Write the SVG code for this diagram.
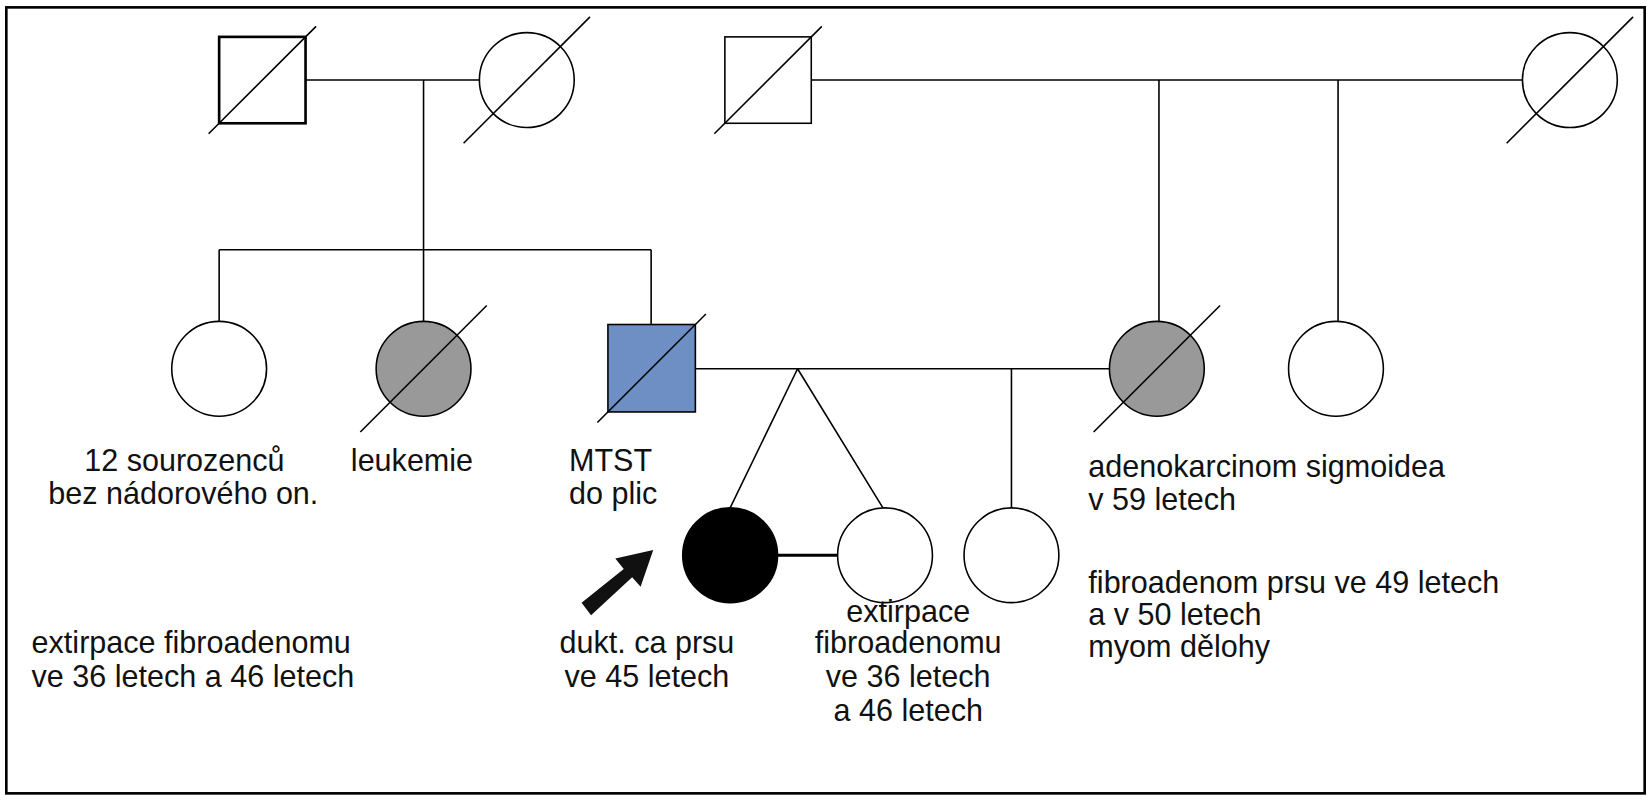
<svg xmlns="http://www.w3.org/2000/svg" width="1652" height="800" viewBox="0 0 1652 800">
<style>
.s{fill:#fff;stroke:#000;stroke-width:1.5}
.b{stroke-width:2.5}
.l{stroke:#000;stroke-width:1.5;fill:none}
text{font-family:"Liberation Sans",Arial,sans-serif;font-size:29px;fill:#111}
.m{text-anchor:middle}
</style>
<rect x="0" y="0" width="1652" height="800" fill="#fff"/>
<g transform="scale(1.0536)">
<rect x="6" y="7" width="1555" height="746" fill="none" stroke="#000" stroke-width="2.5"/>
<g id="connectors">
<path class="l" d="M290 76H455M402 76V237M208 237H618M208 237V305M402 237V305M618 237V308M770 76H1445M1100 76V305M1270 76V305M660 350H1053M757 350L693 482M757 350L838 482M960 350V482"/>
<path class="l" d="M738 527H795" style="stroke-width:3"/>
<path d="M552 572L592 540L584 530L620 522L608 557L600 548L561 584Z" fill="#111"/>
</g>
<g id="g1a"><rect class="s b" x="208" y="35" width="82" height="82"/><path class="l" d="M198 127L300 25"/></g>
<g id="g1b"><circle class="s" cx="500" cy="76" r="45"/><path class="l" d="M440 136L560 16"/></g>
<g id="g1c"><rect class="s" x="688" y="35" width="82" height="82"/><path class="l" d="M678 127L780 25"/></g>
<g id="g1d"><circle class="s" cx="1490" cy="76" r="45"/><path class="l" d="M1430 136L1550 16"/></g>
<g id="g2a"><circle class="s" cx="208" cy="350" r="45"/></g>
<g id="g2b"><circle class="s" cx="402" cy="350" r="45" style="fill:#999"/><path class="l" d="M342 410L462 290"/></g>
<g id="g2c"><rect class="s" x="577" y="308" width="83" height="83" style="fill:#6d8fc4"/><path class="l" d="M567 401L670 298"/></g>
<g id="g2d"><circle class="s" cx="1098" cy="350" r="45" style="fill:#999"/><path class="l" d="M1038 410L1158 290"/></g>
<g id="g2e"><circle class="s" cx="1268" cy="350" r="45"/></g>
<g id="g3a"><circle class="s" cx="693" cy="527" r="45" style="fill:#000"/></g>
<g id="g3b"><circle class="s" cx="840" cy="527" r="45"/></g>
<g id="g3c"><circle class="s" cx="960" cy="527" r="45"/></g>
<text class="m" x="175" y="447">12 sourozenců</text>
<text class="m" x="174" y="478">bez nádorového on.</text>
<text x="333" y="447">leukemie</text>
<text x="540" y="447">MTST</text>
<text x="540" y="478">do plic</text>
<text x="1033" y="453">adenokarcinom sigmoidea</text>
<text x="1033" y="484">v 59 letech</text>
<text x="1033" y="563">fibroadenom prsu ve 49 letech</text>
<text x="1033" y="593">a v 50 letech</text>
<text x="1033" y="624">myom dělohy</text>
<text x="30" y="620">extirpace fibroadenomu</text>
<text x="30" y="652">ve 36 letech a 46 letech</text>
<text class="m" x="614" y="620">dukt. ca prsu</text>
<text class="m" x="614" y="652">ve 45 letech</text>
<text class="m" x="862" y="590">extirpace</text>
<text class="m" x="862" y="620">fibroadenomu</text>
<text class="m" x="862" y="652">ve 36 letech</text>
<text class="m" x="862" y="684">a 46 letech</text>
</g>
</svg>
